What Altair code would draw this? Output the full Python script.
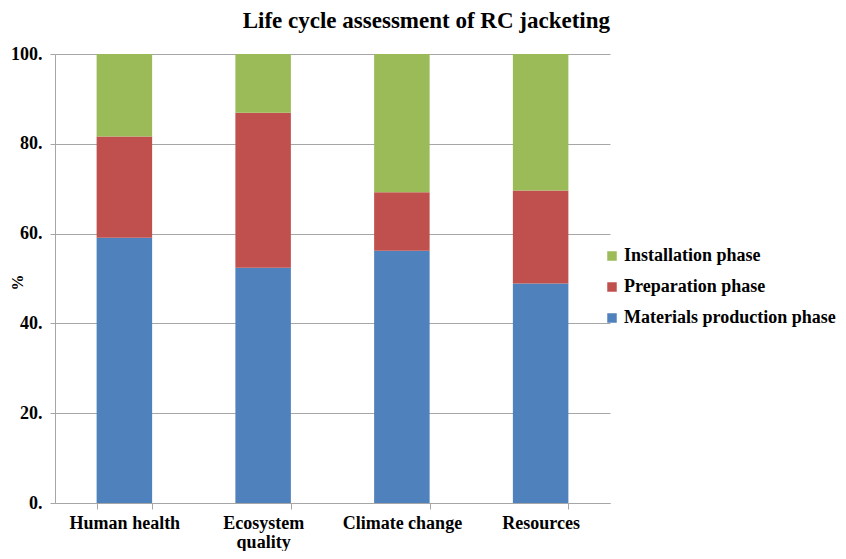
import altair as alt
import pandas as pd

categories = ["Human health", "Ecosystem quality", "Climate change", "Resources"]
phases = ["Installation phase", "Preparation phase", "Materials production phase"]
materials = [59.1, 52.4, 56.2, 48.9]
preparation = [22.5, 34.5, 13.0, 20.7]
installation = [18.4, 13.1, 30.8, 30.4]
colors = ["#9BBB59", "#C0504D", "#4F81BD"]

rows = []
for i, c in enumerate(categories):
    rows.append({"category": c, "phase": phases[2], "value": materials[i], "ord": 0})
    rows.append({"category": c, "phase": phases[1], "value": preparation[i], "ord": 1})
    rows.append({"category": c, "phase": phases[0], "value": installation[i], "ord": 2})
df = pd.DataFrame(rows)

FONT = "Liberation Serif"
GRID = "#a6a6a6"

chart = alt.Chart(df).mark_bar().encode(
    x=alt.X(
        "category:N",
        sort=categories,
        scale=alt.Scale(paddingInner=0.6, paddingOuter=0.3),
        axis=alt.Axis(
            title=None,
            labelAngle=0,
            labelPadding=5,
            labelLineHeight=19,
            labelExpr="datum.value == 'Ecosystem quality' ? ['Ecosystem', 'quality'] : datum.value",
            tickBand="extent",
            tickSize=6,
            grid=False,
        ),
    ),
    y=alt.Y(
        "value:Q",
        stack="zero",
        scale=alt.Scale(domain=[0, 100], nice=False),
        axis=alt.Axis(
            title="%",
            titleFontSize=16,
            titleX=-30,
            titleY=228,
            titleAngle=270,
            titleAlign="center",
            values=[0, 20, 40, 60, 80, 100],
            labelExpr="datum.value + '.'",
            labelPadding=8,
            tickSize=5,
        ),
    ),
    color=alt.Color(
        "phase:N",
        scale=alt.Scale(domain=phases, range=colors),
        legend=alt.Legend(
            title=None,
            orient="none",
            legendX=548,
            legendY=193,
            symbolType="square",
            symbolSize=90,
            symbolStrokeWidth=0,
            labelOffset=3,
            labelLimit=400,
            rowPadding=13,
            padding=0,
        ),
    ),
    order=alt.Order("ord:Q", sort="ascending"),
).properties(
    width=555,
    height=449,
    padding={"left": 47, "top": 46, "right": 228, "bottom": 48},
    autosize=alt.AutoSizeParams(type="none"),
    title=alt.TitleParams(
        "Life cycle assessment of RC jacketing",
        font=FONT,
        fontSize=23,
        fontWeight="bold",
        color="black",
        anchor="end",
        frame="group",
        offset=12,
    ),
).configure_view(stroke=None).configure_axis(
    labelFont=FONT,
    labelFontSize=18,
    labelFontWeight="bold",
    labelColor="black",
    titleFont=FONT,
    titleFontSize=18,
    titleFontWeight="bold",
    titleColor="black",
    tickColor=GRID,
    domainColor=GRID,
    gridColor=GRID,
).configure_legend(
    labelFont=FONT,
    labelFontSize=18,
    labelFontWeight="bold",
    labelColor="black",
)

chart.save("out.html", embed_options={"renderer": "svg", "actions": False})
